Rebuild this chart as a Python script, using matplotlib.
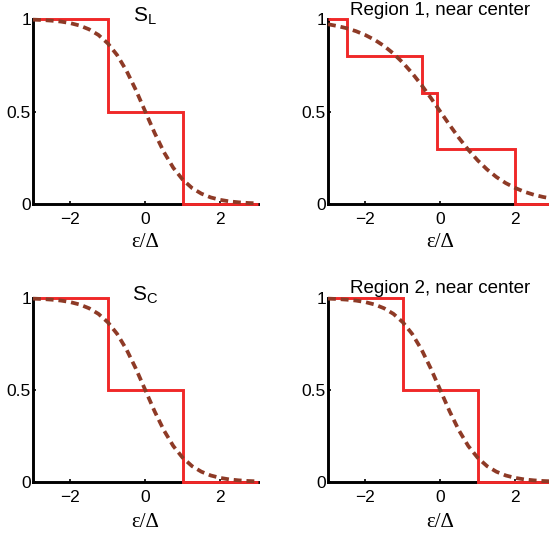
import matplotlib
matplotlib.use("Agg")
import matplotlib.pyplot as plt

# ---- data ----
titles = [r"$\mathregular{S_L}$", "Region 1, near center", r"$\mathregular{S_C}$", "Region 2, near center"]

x_curve = [-3.0, -2.75, -2.5, -2.25, -2.0, -1.75, -1.5, -1.25, -1.0, -0.75, -0.5, -0.25, 0.0,
           0.25, 0.5, 0.75, 1.0, 1.25, 1.5, 1.75, 2.0, 2.25, 2.5, 2.75, 3.0]
curve_narrow = [0.9965, 0.9945, 0.991, 0.986, 0.9775, 0.9645, 0.944, 0.9136, 0.868, 0.8046, 0.7198, 0.6158, 0.5,
                0.3842, 0.2802, 0.1954, 0.132, 0.0864, 0.056, 0.0355, 0.0225, 0.014, 0.009, 0.0055, 0.0035]
curve_wide = [0.9715, 0.962, 0.950, 0.934, 0.913, 0.887, 0.854, 0.813, 0.764, 0.707, 0.643, 0.573, 0.5,
              0.427, 0.357, 0.293, 0.236, 0.187, 0.146, 0.113, 0.087, 0.066, 0.050, 0.038, 0.0285]

steps_SL_edges = [-3, -1, 1, 3]
steps_SL_vals = [1, 0.5, 0]
steps_R1_edges = [-3, -2.5, -0.5, -0.1, 2, 3]
steps_R1_vals = [1, 0.8, 0.6, 0.3, 0]
steps_SC_edges = [-3, -1, 1, 3]
steps_SC_vals = [1, 0.5, 0]
steps_R2_edges = [-3, -1, 1, 3]
steps_R2_vals = [1, 0.5, 0]

x_ticks = [-2, 0, 2]
x_ticklabels = ["\u22122", "0", "2"]
y_ticks = [0, 0.5, 1]
y_ticklabels = ["0", "0.5", "1"]
xlabel = "\u03b5/\u0394"

panels = [
    (steps_SL_edges, steps_SL_vals, curve_narrow),
    (steps_R1_edges, steps_R1_vals, curve_wide),
    (steps_SC_edges, steps_SC_vals, curve_narrow),
    (steps_R2_edges, steps_R2_vals, curve_narrow),
]

# ---- layout ----
W, H = 549, 537
fig = plt.figure(figsize=(W / 100, H / 100), dpi=100)
plt.rcParams['font.family'] = ['Liberation Sans', 'DejaVu Sans']

lefts = [33, 328]
tops = [19, 298]
bottoms = [204, 482]
width_px = 224.5
label_top_px = [233, 513]
title_pads = [1.2, 3.8]

red = '#f02828'
brown = '#8e3a26'

for i, (edges, vals, curve) in enumerate(panels):
    r, c = divmod(i, 2)
    l = lefts[c] / W
    b = 1 - bottoms[r] / H
    hpx = bottoms[r] - tops[r]
    ax = fig.add_axes([l, b, width_px / W, hpx / H])
    ax.set_xlim(-3, 3)
    ax.set_ylim(0, 1)
    for s in ['top', 'right']:
        ax.spines[s].set_visible(False)
    for s in ['left', 'bottom']:
        ax.spines[s].set_linewidth(2.1)
        ax.spines[s].set_color('black')
    ax.stairs(vals, edges, baseline=None, color=red, linewidth=2.1, zorder=3, clip_on=False)
    ax.plot(x_curve, curve, color=brown, linewidth=2.7, dashes=(2.1, 1.3), zorder=4, clip_on=False)
    ax.set_xticks(x_ticks)
    ax.set_xticklabels(x_ticklabels)
    ax.set_yticks(y_ticks)
    ax.set_yticklabels(y_ticklabels)
    ax.tick_params(direction='in', length=2, width=1.2, labelsize=12.5)
    ax.tick_params(axis='x', pad=6)
    ax.tick_params(axis='y', pad=1.5)
    ax.set_xlabel(xlabel, fontfamily='Liberation Serif', fontsize=15)
    ax.xaxis.set_label_coords(0.5, -(label_top_px[r] - bottoms[r]) / hpx)
    if c == 0:
        ax.text(0.5, 1.012, titles[i], transform=ax.transAxes, ha='center', va='center', fontsize=15)
    else:
        ax.set_title(titles[i], fontsize=13.5, pad=title_pads[r])

fig.savefig('out.png', dpi=100)
